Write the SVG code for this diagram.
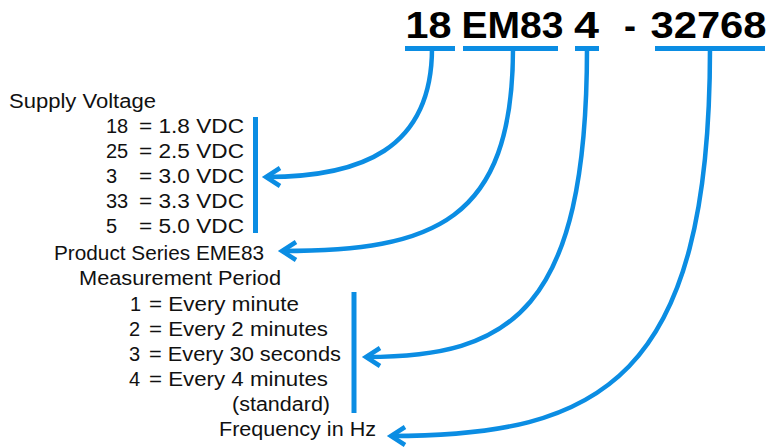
<svg xmlns="http://www.w3.org/2000/svg" width="768" height="447" viewBox="0 0 768 447">
<style>
.t{font-family:"Liberation Sans",Arial,sans-serif;font-size:20px;fill:#111;}
.h{font-family:"Liberation Sans",Arial,sans-serif;font-size:36px;font-weight:bold;fill:#000;}
.c{fill:none;stroke:#0b8de3;stroke-width:4.5;}
.bar{stroke:#0b8de3;stroke-width:5;}
</style>
<defs>
<marker id="arrow" viewBox="-18 -12 24 24" refX="0" refY="0" markerWidth="24" markerHeight="24" markerUnits="userSpaceOnUse" orient="auto">
<path d="M-14,-9 L0,0 L-14,9" fill="none" stroke="#0b8de3" stroke-width="4.5"/>
</marker>
</defs>
<rect width="768" height="447" fill="#fff"/>
<g id="code">
<text class="h" x="405.5" y="38" textLength="46" lengthAdjust="spacingAndGlyphs">18</text>
<text class="h" x="461.5" y="38" textLength="102" lengthAdjust="spacingAndGlyphs">EM83</text>
<text class="h" x="574" y="38" textLength="25" lengthAdjust="spacingAndGlyphs">4</text>
<text class="h" x="630" y="38" text-anchor="middle">-</text>
<text class="h" x="650.5" y="38" textLength="116" lengthAdjust="spacingAndGlyphs">32768</text>
</g>
<g id="supply-voltage">
<text class="t" x="9" y="108" textLength="147" lengthAdjust="spacingAndGlyphs">Supply Voltage</text>
<text class="t" x="106" y="133">18</text><text class="t" x="139" y="133" textLength="105" lengthAdjust="spacingAndGlyphs">= 1.8 VDC</text>
<text class="t" x="106" y="158">25</text><text class="t" x="139" y="158" textLength="105" lengthAdjust="spacingAndGlyphs">= 2.5 VDC</text>
<text class="t" x="106" y="183">3</text><text class="t" x="139" y="183" textLength="105" lengthAdjust="spacingAndGlyphs">= 3.0 VDC</text>
<text class="t" x="106" y="208">33</text><text class="t" x="139" y="208" textLength="105" lengthAdjust="spacingAndGlyphs">= 3.3 VDC</text>
<text class="t" x="106" y="233">5</text><text class="t" x="139" y="233" textLength="105" lengthAdjust="spacingAndGlyphs">= 5.0 VDC</text>
<line class="bar" x1="255.5" y1="117" x2="255.5" y2="233"/>
</g>
<g id="product-series">
<text class="t" x="54" y="260" textLength="210" lengthAdjust="spacingAndGlyphs">Product Series EME83</text>
</g>
<g id="measurement-period">
<text class="t" x="79" y="285" textLength="202" lengthAdjust="spacingAndGlyphs">Measurement Period</text>
<text class="t" x="130" y="311">1</text><text class="t" x="149" y="311" textLength="150" lengthAdjust="spacingAndGlyphs">= Every minute</text>
<text class="t" x="129" y="336">2</text><text class="t" x="149" y="336" textLength="179" lengthAdjust="spacingAndGlyphs">= Every 2 minutes</text>
<text class="t" x="129" y="361">3</text><text class="t" x="149" y="361" textLength="192" lengthAdjust="spacingAndGlyphs">= Every 30 seconds</text>
<text class="t" x="129" y="386">4</text><text class="t" x="149" y="386" textLength="179" lengthAdjust="spacingAndGlyphs">= Every 4 minutes</text>
<text class="t" x="232" y="411" textLength="98" lengthAdjust="spacingAndGlyphs">(standard)</text>
<line class="bar" x1="354" y1="292" x2="354" y2="413"/>
</g>
<g id="frequency">
<text class="t" x="219" y="436" textLength="157" lengthAdjust="spacingAndGlyphs">Frequency in Hz</text>
</g>
<g id="connectors">
<line class="bar" x1="405" y1="48.5" x2="455" y2="48.5"/>
<line class="bar" x1="463" y1="48.5" x2="558" y2="48.5"/>
<line class="bar" x1="575" y1="48.5" x2="599" y2="48.5"/>
<line class="bar" x1="655" y1="48.5" x2="765" y2="48.5"/>
<path class="c" d="M432,48 C432,150 360,177 266,177" marker-end="url(#arrow)"/>
<path class="c" d="M513,48 C513,222 433,251 282,251" marker-end="url(#arrow)"/>
<path class="c" d="M587,48 C587,312 510,357 366,357" marker-end="url(#arrow)"/>
<path class="c" d="M710,48 C710,380 600,436 391,436" marker-end="url(#arrow)"/>
</g>
</svg>
